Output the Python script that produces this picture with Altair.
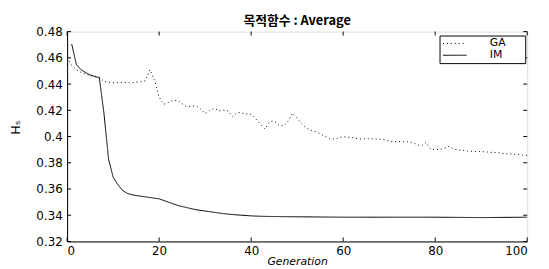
import altair as alt
import pandas as pd

# ---- data ----
ga_gen = list(range(0, 101))
ga_val = [0.460, 0.454, 0.451, 0.449, 0.4475, 0.4465, 0.446, 0.4455, 0.442, 0.4415,
          0.441, 0.4412, 0.4412, 0.4411, 0.441, 0.4414, 0.4418, 0.4425, 0.451, 0.443,
          0.430, 0.4245, 0.426, 0.4275, 0.4275, 0.425, 0.4228, 0.423, 0.4235, 0.421,
          0.4175, 0.420, 0.4215, 0.4195, 0.420, 0.4195, 0.4152, 0.4185, 0.4178, 0.4172,
          0.417, 0.4135, 0.4095, 0.4058, 0.4112, 0.412, 0.4088, 0.408, 0.4115, 0.4178,
          0.414, 0.4095, 0.4065, 0.4048, 0.4038, 0.402, 0.4003, 0.3985, 0.398, 0.399,
          0.3998, 0.3995, 0.3993, 0.3985, 0.398, 0.3985, 0.3983, 0.398, 0.398, 0.3975,
          0.3965, 0.396, 0.3962, 0.396, 0.396, 0.3955, 0.394, 0.3928, 0.3955, 0.3905,
          0.3902, 0.390, 0.391, 0.3925, 0.3905, 0.3898, 0.3895, 0.389, 0.3887, 0.3885,
          0.3885, 0.3883, 0.388, 0.3878, 0.3875, 0.387, 0.3868, 0.3866, 0.3865, 0.386,
          0.3855]

im_gen = [1, 2, 3, 4, 5, 6, 7, 8, 9, 10, 11, 12, 13, 14, 15, 16, 17, 18, 19, 20,
          22, 24, 26, 28, 30, 32, 34, 36, 38, 40, 42, 45, 50, 60, 70, 80, 90, 100]
im_val = [0.4705, 0.455, 0.451, 0.4488, 0.447, 0.4458, 0.4448, 0.418, 0.383, 0.369,
          0.3635, 0.359, 0.3568, 0.3557, 0.355, 0.3545, 0.354, 0.3535, 0.353, 0.3525,
          0.350, 0.3475, 0.3458, 0.3442, 0.3432, 0.3422, 0.3412, 0.3405, 0.340, 0.3395,
          0.3392, 0.339, 0.3388, 0.3385, 0.3385, 0.3385, 0.3382, 0.3385]

x_ticks = [0, 20, 40, 60, 80, 100]
y_ticks = [0.32, 0.34, 0.36, 0.38, 0.40, 0.42, 0.44, 0.46, 0.48]

series_names = ["GA", "IM"]
title_text = "목적함수 : Average"
x_title = "Generation"
y_title = "Hₛ"

W, H = 467, 213
FONT = "DejaVu Sans"
PAD = "\u2800" * 2

df = pd.concat([
    pd.DataFrame({"gen": ga_gen, "value": ga_val, "series": "GA"}),
    pd.DataFrame({"gen": im_gen, "value": im_val, "series": "IM"}),
])
dfx = pd.DataFrame({"gen": x_ticks})
dfy = pd.DataFrame({"value": y_ticks})

xscale = alt.Scale(domain=[0, 100], nice=False, zero=False)
yscale = alt.Scale(domain=[0.32, 0.48], nice=False, zero=False)

xaxis = alt.Axis(values=x_ticks, title=x_title, tickSize=0, grid=False,
                 labelPadding=4, titlePadding=-1, titleFontStyle="italic",
                 titleFontWeight="normal", titleFontSize=11,
                 labelFontSize=12, labelFont=FONT, titleFont=FONT,
                 labelOverlap=False, domainColor="black",
                 labelColor="black", titleColor="black")
yaxis = alt.Axis(values=y_ticks, title=y_title, tickSize=0, grid=False,
                 format="~g", labelPadding=5, titlePadding=14, titleY=97,
                 titleFontWeight="normal", titleFontSize=13,
                 labelFontSize=12, labelFont=FONT, titleFont=FONT,
                 labelOverlap=False, domainColor="black",
                 labelColor="black", titleColor="black")


def make_legend():
    return alt.Legend(title=None, orient="none", legendX=378, legendY=4,
                      strokeColor="black", fillColor="white", padding=3,
                      symbolType="stroke", symbolSize=576, symbolStrokeWidth=1,
                      clipHeight=10, rowPadding=1, labelOffset=23,
                      labelFontSize=11, labelFont=FONT, labelColor="black",
                      labelExpr="datum.label + '" + PAD + "'")


lines = alt.Chart(df).mark_line(strokeWidth=1, clip=True).encode(
    x=alt.X("gen:Q", scale=xscale, axis=xaxis),
    y=alt.Y("value:Q", scale=yscale, axis=yaxis),
    color=alt.Color("series:N", scale=alt.Scale(domain=series_names,
                                                range=["black", "black"]),
                    legend=make_legend()),
    strokeDash=alt.StrokeDash("series:N",
                              scale=alt.Scale(domain=series_names,
                                              range=[[1, 3], [1, 0]]),
                              legend=make_legend()),
)

xb = alt.Chart(dfx).mark_rule(color="black").encode(
    x=alt.X("gen:Q", scale=xscale, axis=xaxis), y=alt.value(H), y2=alt.value(H - 4))
xt = alt.Chart(dfx).mark_rule(color="black").encode(
    x=alt.X("gen:Q", scale=xscale, axis=xaxis), y=alt.value(0), y2=alt.value(4))
yl = alt.Chart(dfy).mark_rule(color="black").encode(
    y=alt.Y("value:Q", scale=yscale, axis=yaxis), x=alt.value(0), x2=alt.value(4))
yr = alt.Chart(dfy).mark_rule(color="black").encode(
    y=alt.Y("value:Q", scale=yscale, axis=yaxis), x=alt.value(W), x2=alt.value(W - 4))

chart = alt.layer(lines, xb, xt, yl, yr).properties(
    width=W, height=H,
    title=alt.TitleParams(title_text, font="Noto Sans CJK KR", fontSize=13,
                          fontWeight="bold", color="black", offset=-2,
                          anchor="middle"),
    autosize=alt.AutoSizeParams(type="none"),
    padding={"left": 60, "top": 22, "right": 14, "bottom": 26},
).configure_view(stroke="black", strokeWidth=1).configure(background="white")

chart.save("out.html", embed_options={"renderer": "svg", "actions": False})
